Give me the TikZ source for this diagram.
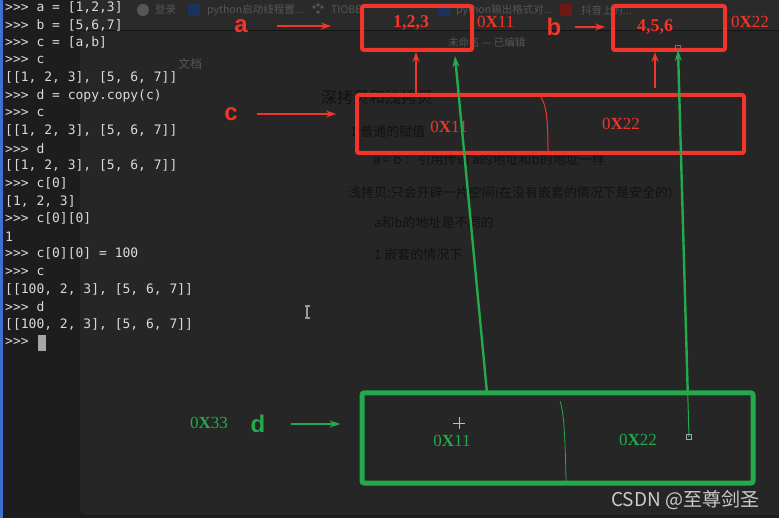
\documentclass[tikz,border=0pt]{standalone}
\usepackage{fontspec}
\setsansfont{Liberation Sans}
\setmonofont{DejaVu Sans Mono}
\newfontfamily\addrfont{Liberation Serif}
\newfontfamily\cjk{Noto Sans CJK SC}
\usetikzlibrary{arrows.meta, calc}

\definecolor{bgdark}{HTML}{1D1D1D}
\definecolor{bgpanel}{HTML}{262626}
\definecolor{bgbar}{HTML}{2A2A2A}
\definecolor{termtext}{HTML}{DADADA}
\definecolor{faint}{HTML}{565656}
\definecolor{doctext}{HTML}{121212}
\definecolor{annred}{HTML}{F2352A}
\definecolor{anngreen}{HTML}{22AA4C}
\definecolor{barblue}{HTML}{3F6FD1}

\newcommand{\hexaddr}[1]{0\textbf{X}#1}

\tikzset{
  termline/.style={anchor=west, inner sep=0pt, text=termtext, font=\ttfamily\fontsize{13}{15}\selectfont},
  bartxt/.style={anchor=west, inner sep=0pt, text=faint, font=\cjk\fontsize{10.5}{12}\selectfont},
  doctxt/.style={anchor=west, inner sep=0pt, text=doctext, font=\cjk\fontsize{13}{15}\selectfont},
  lbl/.style={inner sep=0pt, font=\sffamily\bfseries\fontsize{24}{26}\selectfont},
  addrtxt/.style={inner sep=0pt, font=\addrfont\fontsize{17}{19}\selectfont},
  valtxt/.style={inner sep=0pt, text=annred, font=\addrfont\bfseries\fontsize{18}{20}\selectfont},
  redbox/.style={draw=annred, line width=4pt, rounded corners=2pt, inner sep=0pt},
  greenbox/.style={draw=anngreen, line width=5pt, rounded corners=2pt, inner sep=0pt},
  redarrow/.style={draw=annred, line width=2.2pt, -{Stealth[length=10pt,width=7pt]}},
  greenarrow/.style={draw=anngreen, line width=2.4pt, -{Stealth[length=11pt,width=7pt]}},
}

\begin{document}
\begin{tikzpicture}[x=1pt, y=-1pt]
\useasboundingbox (0,0) rectangle (779,518);
% screen background
\fill[bgdark] (0,0) rectangle (779,518);
\fill[bgpanel, rounded corners=6pt] (80,-10) rectangle (790,515);
\fill[bgbar] (80,0) rectangle (779,30);
\draw[black!50!bgpanel, line width=0.6pt] (80,30) -- (779,30);
\fill[barblue] (0,0) rectangle (2.5,518);
\fill[barblue] (0,245) circle (3);

% bookmark bar
\fill[faint] (143,10) circle (6);
\fill[barblue!45!black, rounded corners=2pt] (188,4) rectangle (200,16);
\foreach \px/\py in {314/7, 318/5, 322/7, 318/12} \fill[faint] (\px,\py) circle (1.8);
\fill[barblue!45!black, rounded corners=2pt] (438,4) rectangle (450,16);
\fill[annred!45!black, rounded corners=2pt] (560,4) rectangle (572,16);
\node[bartxt] (bm1) at (155,10) {登录};
\node[bartxt] (bm2) at (207,10) {python启动线程置...};
\node[bartxt] (bm3) at (331,10) {TIOBE};
\node[bartxt] (bm4) at (456,10) {python输出格式对...};
\node[bartxt] (bm5) at (581,10) {抖音上的...};
\node[bartxt] (ttl) at (448,42) {未命名 — 已编辑};
\node[bartxt, font=\cjk\fontsize{12}{14}\selectfont] (doc) at (178,64) {文档};

% document text behind the drawing
\node[doctxt, font=\cjk\fontsize{16}{18}\selectfont] (h1) at (321,97) {深拷贝和浅拷贝};
\node[doctxt] (p1) at (350,132) {1 普通的赋值};
\node[doctxt] (p2) at (373,160) {a = b ：引用传递 a的地址和b的地址一样};
\node[doctxt] (p3) at (348,193) {浅拷贝:只会开辟一片空间(在没有嵌套的情况下是安全的)};
\node[doctxt] (p4) at (374,223) {a和b的地址是不同的};
\node[doctxt] (p5) at (374,255) {1 嵌套的情况下};

% python session
\foreach \i/\t in {1/{>>> a = [1,2,3]}, 2/{>>> b = [5,6,7]}, 3/{>>> c = [a,b]},
    4/{>>> c}, 5/{[[1, 2, 3], [5, 6, 7]]}, 6/{>>> d = copy.copy(c)}, 7/{>>> c},
    8/{[[1, 2, 3], [5, 6, 7]]}, 9/{>>> d}, 10/{[[1, 2, 3], [5, 6, 7]]},
    11/{>>> c[0]}, 12/{[1, 2, 3]}, 13/{>>> c[0][0]}, 14/{1},
    15/{>>> c[0][0] = 100}, 16/{>>> c}, 17/{[[100, 2, 3], [5, 6, 7]]},
    18/{>>> d}, 19/{[[100, 2, 3], [5, 6, 7]]}, 20/{>>>}}
  \node[termline] (t\i) at (5,{7.5+17.6*(\i-1)}) {\t};
\fill[gray!70] (38,335) rectangle (45.5,351);
\draw[gray!80, line width=1.4pt] (307,306) -- (307,318) (304.5,306) -- (309.5,306) (304.5,318) -- (309.5,318);

% red annotations: a, b, c
\node[redbox, minimum width=110pt, minimum height=44pt] (boxA) at (417,28) {};
\node[redbox, minimum width=112pt, minimum height=44pt] (boxB) at (669,28) {};
\node[redbox, minimum width=387pt, minimum height=58pt] (boxC) at (550.5,124) {};
\draw[annred, line width=1pt] (541,97) .. controls (546,106) and (548,116) .. (548,152);
\node[valtxt] (va) at (411,23) {1,2,3};
\node[valtxt] (vb) at (655,27) {4,5,6};
\node[addrtxt, text=annred, anchor=west] (aa) at (477,22) {\hexaddr{11}};
\node[addrtxt, text=annred, anchor=west] (ab) at (731,22) {\hexaddr{22}};
\node[addrtxt, text=annred] (ca1) at (449,127) {\hexaddr{11}};
\node[addrtxt, text=annred] (ca2) at (621,124) {\hexaddr{22}};
\node[lbl, text=annred] (la) at (241,26) {a};
\node[lbl, text=annred] (lb) at (554,27) {b};
\node[lbl, text=annred] (lc) at (231,114) {c};
\draw[redarrow, shorten <=29pt, shorten >=29pt] (la.east) -- (la.east -| boxA.west);
\draw[redarrow, shorten <=13pt, shorten >=6pt] (lb.east) -- (lb.east -| boxB.west);
\draw[redarrow, shorten <=19pt, shorten >=19pt] (lc.east) -- (lc.east -| boxC.west);
\coordinate (ua) at (416,95);
\coordinate (ub) at (655,88);
\draw[redarrow] (ua) -- (ua |- boxA.south);
\draw[redarrow] (ub) -- (ub |- boxB.south);

% green annotations: d
\node[greenbox, minimum width=391pt, minimum height=90pt] (boxD) at (557.5,438) {};
\draw[anngreen, line width=0.8pt] (560,401) .. controls (563,410) and (565,425) .. (566,481);
\node[addrtxt, text=anngreen] (da1) at (452,441) {\hexaddr{11}};
\node[addrtxt, text=anngreen] (da2) at (638,440) {\hexaddr{22}};
\node[addrtxt, text=anngreen] (dd) at (209,423) {\hexaddr{33}};
\node[lbl, text=anngreen] (ld) at (258,424) {d};
\draw[greenarrow, shorten <=25pt, shorten >=19pt] (ld.east) -- (ld.east -| boxD.west);
\coordinate (ga) at (487,393);
\coordinate (gta) at (455,56);
\coordinate (gb) at (689,437);
\coordinate (gtb) at (678,50);
\draw[greenarrow] (ga) -- (gta);
\draw[anngreen, line width=1pt] (gb) -- ($(gb)!0.13!(gtb)$);
\draw[greenarrow] ($(gb)!0.12!(gtb)$) -- (gtb);
\draw[gray!70, line width=0.6pt] (gb) +(-2.5,-2.5) rectangle +(2.5,2.5);
\draw[annred!50!gray, line width=0.6pt] (gtb) +(-2.5,-5) rectangle +(2.5,0);
\draw[white!75!black, line width=0.6pt] (453,423) -- (465,423) (459,417) -- (459,429);

\node[anchor=west, inner sep=0pt, text=white!80!black, font=\cjk\fontsize{19}{21}\selectfont] (wm) at (611,500) {CSDN @至尊剑圣};
\end{tikzpicture}
\end{document}
